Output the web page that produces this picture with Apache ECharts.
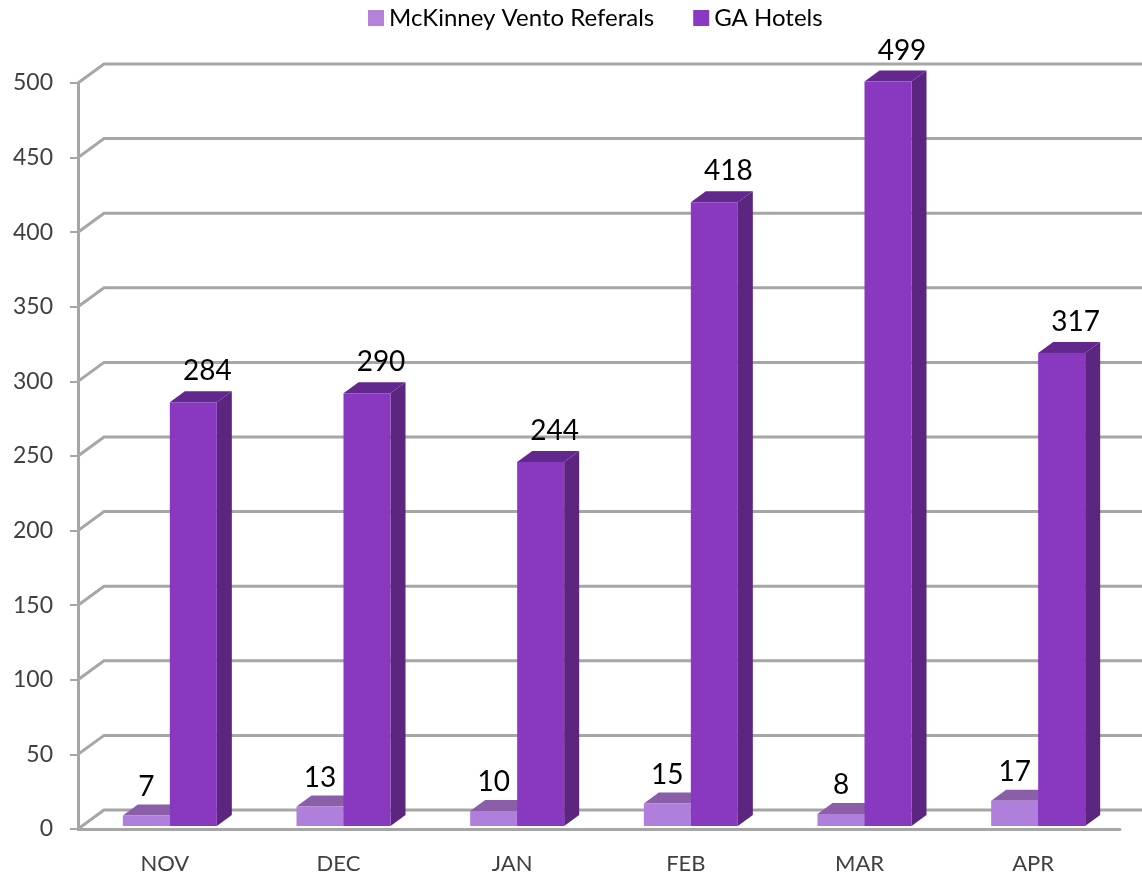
<!DOCTYPE html>
<html>
<head>
<meta charset="utf-8">
<script src="https://cdn.jsdelivr.net/npm/echarts@6/dist/echarts.min.js"></script>
<style>
  html, body { margin: 0; padding: 0; background: #fff; }
  #chart { width: 1142px; height: 876px; }
</style>
</head>
<body>
<div id="chart"></div>
<script>
var months = ['NOV', 'DEC', 'JAN', 'FEB', 'MAR', 'APR'];
var referrals = [7, 13, 10, 15, 8, 17];
var hotels = [284, 290, 244, 418, 499, 317];
var yTicks = [0, 50, 100, 150, 200, 250, 300, 350, 400, 450, 500];

var fontName = 'Lato';
var gridColor = '#a6a6a6';

// depth of the fake 3d walls and bars, in px
var wallDx = 26, wallDy = -19;
var barDx = 15, barDy = -11;
var barW = 47;
var floorLift = 3;

function renderWall (params, api) {
  var cs = params.coordSys;
  var y = api.coord([0, api.value(0)])[1];
  return {
    type: 'polyline',
    silent: true,
    shape: {
      points: [
        [cs.x, y],
        [cs.x + wallDx, y + wallDy],
        [cs.x + cs.width + wallDx, y + wallDy]
      ]
    },
    style: { fill: 'none', stroke: gridColor, lineWidth: 3 }
  };
}

// slot -1 is the left bar of a month, 0 the right one
function barRenderer (slot, front, side, top, labelDx, labelDy) {
  return function (params, api) {
    var p = api.coord([api.value(0), api.value(1)]);
    var base = api.coord([api.value(0), 0]);
    var x0 = p[0] + 5 + slot * barW;
    var x1 = x0 + barW;
    var yTop = p[1] - floorLift;
    var yBase = base[1] - floorLift;
    return {
      type: 'group',
      children: [
        {
          type: 'polygon',
          shape: { points: [[x1, yTop], [x1 + barDx, yTop + barDy], [x1 + barDx, yBase + barDy], [x1, yBase]] },
          style: { fill: side }
        },
        {
          type: 'polygon',
          shape: { points: [[x0, yTop], [x0 + barDx, yTop + barDy], [x1 + barDx, yTop + barDy], [x1, yTop]] },
          style: { fill: top }
        },
        {
          type: 'rect',
          shape: { x: x0, y: yTop, width: barW, height: yBase - yTop },
          style: { fill: front }
        },
        {
          type: 'text',
          style: {
            text: String(api.value(1)),
            x: (x0 + x1) / 2 + labelDx,
            y: yTop + labelDy,
            textAlign: 'center',
            textVerticalAlign: 'middle',
            fontFamily: fontName,
            fontSize: 28,
            fill: '#000'
          }
        }
      ]
    };
  };
}

function pairs (list) {
  return list.map(function (v, i) { return [i, v]; });
}

var chart = echarts.init(document.getElementById('chart'));
chart.setOption({
  animation: false,
  backgroundColor: '#fff',
  legend: {
    left: 368,
    top: 6,
    icon: 'rect',
    itemWidth: 16,
    itemHeight: 16,
    itemGap: 39,
    padding: 0,
    data: ['McKinney Vento Referals', 'GA Hotels'],
    textStyle: { fontFamily: fontName, fontSize: 24, color: '#000' }
  },
  grid: { left: 78, top: 83, width: 1042, height: 746 },
  xAxis: {
    type: 'category',
    data: months,
    axisLine: { lineStyle: { color: gridColor, width: 3 } },
    axisTick: { length: 9, lineStyle: { color: gridColor, width: 2 } },
    axisLabel: { margin: 24, fontFamily: fontName, fontSize: 22, color: '#404040' }
  },
  yAxis: {
    type: 'value',
    min: 0,
    max: 500,
    interval: 50,
    splitLine: { show: false },
    axisLine: { show: true, lineStyle: { color: gridColor, width: 3 } },
    axisTick: { show: true, length: 8, lineStyle: { color: gridColor, width: 2 } },
    axisLabel: { margin: 25, padding: [4, 0, 0, 0], fontFamily: fontName, fontSize: 23, color: '#404040' }
  },
  series: [
    {
      type: 'custom',
      silent: true,
      coordinateSystem: 'cartesian2d',
      renderItem: renderWall,
      data: yTicks,
      encode: { y: 0 },
      z: 1
    },
    {
      name: 'McKinney Vento Referals',
      type: 'custom',
      renderItem: barRenderer(-1, '#b07fdc', '#6f4a94', '#8a5fa8', 0, -29),
      itemStyle: { color: '#b482d9' },
      data: pairs(referrals),
      encode: { x: 0, y: 1 },
      z: 3
    },
    {
      name: 'GA Hotels',
      type: 'custom',
      renderItem: barRenderer(0, '#8839c0', '#5b2580', '#62288e', 14, -31),
      itemStyle: { color: '#8a3ac2' },
      data: pairs(hotels),
      encode: { x: 0, y: 1 },
      z: 4
    }
  ]
});
</script>
</body>
</html>
